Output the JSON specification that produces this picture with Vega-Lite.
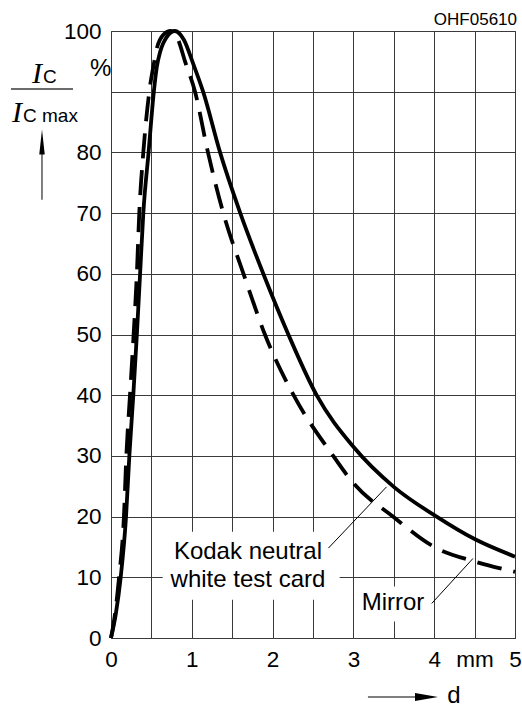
{
  "$schema": "https://vega.github.io/schema/vega-lite/v6.json",
  "width": 404,
  "height": 607,
  "autosize": {"type": "none"},
  "padding": {"left": 111, "top": 31, "right": 7, "bottom": 70},
  "background": "white",
  "config": {
    "view": {"stroke": "#3a3a3a", "strokeWidth": 1},
    "font": "Liberation Sans",
    "axis": {
      "domain": false,
      "ticks": false,
      "grid": true,
      "gridColor": "#3a3a3a",
      "gridWidth": 1,
      "gridOpacity": 1,
      "labelFont": "Liberation Sans",
      "labelFontSize": 22.5,
      "labelColor": "black",
      "labelOverlap": false,
      "labelFlush": false
    }
  },
  "encoding": {
    "x": {"field": "d", "type": "quantitative", "title": null, "scale": {"domain": [0, 5], "nice": false},
      "axis": {"values": [0, 0.5, 1, 1.5, 2, 2.5, 3, 3.5, 4, 4.5, 5], "labelPadding": 10,
        "labelExpr": "datum.value == 4.5 ? 'mm' : (datum.value % 1 == 0 ? format(datum.value, 'd') : '')"}},
    "y": {"field": "v", "type": "quantitative", "title": null, "scale": {"domain": [0, 100], "nice": false},
      "axis": {"values": [0, 10, 20, 30, 40, 50, 60, 70, 80, 90, 100], "labelPadding": 10,
        "labelExpr": "datum.value == 90 ? '' : format(datum.value, 'd')"}}
  },
  "layer": [
    {
      "data": {"values": [
        {"d": 0.64, "d2": 2.83, "v": 6.3, "v2": 17.5},
        {"d": 3.05, "d2": 3.92, "v": 2.7, "v2": 8.5}
      ]},
      "mark": {"type": "rect", "color": "white", "opacity": 1},
      "encoding": {"x2": {"field": "d2"}, "y2": {"field": "v2"}}
    },
    {
      "data": {"values": [
        {"d": 0, "v": 0}, {"d": 0.06, "v": 4}, {"d": 0.12, "v": 10}, {"d": 0.186, "v": 20},
        {"d": 0.227, "v": 30}, {"d": 0.276, "v": 40}, {"d": 0.32, "v": 50}, {"d": 0.36, "v": 60},
        {"d": 0.4, "v": 70}, {"d": 0.465, "v": 80}, {"d": 0.53, "v": 90}, {"d": 0.566, "v": 94},
        {"d": 0.607, "v": 96.5}, {"d": 0.7, "v": 99.2}, {"d": 0.79, "v": 100}, {"d": 0.9, "v": 98.6},
        {"d": 1.02, "v": 94.5}, {"d": 1.14, "v": 90}, {"d": 1.35, "v": 80}, {"d": 1.6, "v": 70},
        {"d": 1.885, "v": 60}, {"d": 2.195, "v": 50}, {"d": 2.545, "v": 40}, {"d": 3.0, "v": 31.5},
        {"d": 3.5, "v": 24.9}, {"d": 4.03, "v": 20}, {"d": 4.5, "v": 16.3}, {"d": 5, "v": 13.4}
      ]},
      "mark": {"type": "line", "color": "black", "strokeWidth": 3.8, "interpolate": "monotone"},
      "encoding": {}
    },
    {
      "data": {"values": [
        {"d": 0, "v": 0}, {"d": 0.05, "v": 4}, {"d": 0.1, "v": 10}, {"d": 0.16, "v": 20},
        {"d": 0.19, "v": 30}, {"d": 0.235, "v": 40}, {"d": 0.28, "v": 50}, {"d": 0.32, "v": 60},
        {"d": 0.35, "v": 70}, {"d": 0.4, "v": 80}, {"d": 0.474, "v": 90}, {"d": 0.536, "v": 95},
        {"d": 0.565, "v": 97}, {"d": 0.65, "v": 99.4}, {"d": 0.74, "v": 100}, {"d": 0.83, "v": 98.6},
        {"d": 0.916, "v": 95}, {"d": 1.04, "v": 90}, {"d": 1.2, "v": 80}, {"d": 1.39, "v": 70},
        {"d": 1.64, "v": 60}, {"d": 1.905, "v": 50}, {"d": 2.26, "v": 40}, {"d": 2.75, "v": 30},
        {"d": 3.0, "v": 25.5}, {"d": 3.49, "v": 20}, {"d": 4.0, "v": 15}, {"d": 4.5, "v": 12.6},
        {"d": 5, "v": 10.9}
      ]},
      "mark": {"type": "line", "color": "black", "strokeWidth": 3.8, "interpolate": "monotone", "strokeDash": [25, 12]},
      "encoding": {}
    },
    {
      "data": {"values": [
        {"d": 2.69, "d2": 3.41, "v": 14.8, "v2": 24.9},
        {"d": 3.97, "d2": 4.48, "v": 5.7, "v2": 13.1},
        {"d": -0.854, "d2": -0.854, "v": 72.2, "v2": 80.5},
        {"d": 3.18, "d2": 3.8, "v": -9.72, "v2": -9.72}
      ]},
      "mark": {"type": "rule", "color": "black", "strokeWidth": 1},
      "encoding": {"x2": {"field": "d2"}, "y2": {"field": "v2"}}
    },
    {
      "data": {"values": [
        {"d": -1.238, "d2": -0.47, "v": 90.44, "v2": 90.44}
      ]},
      "mark": {"type": "rule", "color": "#3a3a3a", "strokeWidth": 1.4},
      "encoding": {"x2": {"field": "d2"}, "y2": {"field": "v2"}}
    },
    {
      "data": {"values": [{"d": -0.854, "v": 81.7}]},
      "mark": {"type": "point", "shape": "M0,-1L0.22,1L-0.22,1Z", "filled": true, "color": "black", "opacity": 1, "size": 625, "strokeWidth": 0},
      "encoding": {}
    },
    {
      "data": {"values": [{"d": 3.905, "v": -9.72}]},
      "mark": {"type": "point", "shape": "M1,0L-1,-0.35L-1,0.35Z", "filled": true, "color": "black", "opacity": 1, "size": 529, "strokeWidth": 0},
      "encoding": {}
    },
    {
      "data": {"values": [
        {"d": 1.695, "v": 14.2, "t": "Kodak neutral"},
        {"d": 1.695, "v": 9.55, "t": "white test card"},
        {"d": 3.49, "v": 5.8, "t": "Mirror"}
      ]},
      "mark": {"type": "text", "fontSize": 24, "align": "center", "baseline": "middle", "color": "black", "font": "Liberation Sans"},
      "encoding": {"text": {"field": "t"}}
    },
    {
      "data": {"values": [
        {"d": 5.025, "v": 101.0, "t": "OHF05610"}
      ]},
      "mark": {"type": "text", "fontSize": 17, "align": "right", "baseline": "alphabetic", "color": "black", "font": "Liberation Sans"},
      "encoding": {"text": {"field": "t"}}
    },
    {
      "data": {"values": [
        {"d": -0.26, "v": 92.6, "t": "%"},
        {"d": 4.16, "v": -10.7, "t": "d"}
      ]},
      "mark": {"type": "text", "fontSize": 24, "align": "left", "baseline": "alphabetic", "color": "black", "font": "Liberation Sans"},
      "encoding": {"text": {"field": "t"}}
    },
    {
      "data": {"values": [
        {"d": -0.978, "v": 91.4, "t": "I"},
        {"d": -1.225, "v": 85.0, "t": "I"}
      ]},
      "mark": {"type": "text", "fontSize": 30, "fontStyle": "italic", "align": "left", "baseline": "alphabetic", "color": "black", "font": "Liberation Serif"},
      "encoding": {"text": {"field": "t"}}
    },
    {
      "data": {"values": [
        {"d": -0.842, "v": 91.4, "t": "C"},
        {"d": -1.089, "v": 85.0, "t": "C max"}
      ]},
      "mark": {"type": "text", "fontSize": 19, "align": "left", "baseline": "alphabetic", "color": "black", "font": "Liberation Sans"},
      "encoding": {"text": {"field": "t"}}
    }
  ]
}
